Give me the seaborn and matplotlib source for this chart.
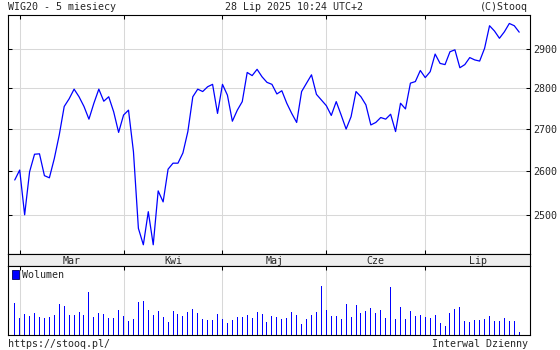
import matplotlib
matplotlib.use("Agg")
import matplotlib.pyplot as plt
from matplotlib.ticker import FixedLocator, FixedFormatter, NullLocator
from matplotlib.patches import Patch
import seaborn as sns
import numpy as np
import pandas as pd

# ---- data ----
price = [2580, 2603, 2501, 2599, 2640, 2641, 2590, 2585, 2630, 2686,
         2755, 2774, 2798, 2779, 2755, 2724, 2763, 2798, 2768, 2779,
         2742, 2692, 2734, 2746, 2646, 2471, 2435, 2508, 2435, 2555,
         2530, 2605, 2619, 2619, 2643, 2694, 2779, 2798, 2792, 2804,
         2810, 2738, 2810, 2783, 2719, 2746, 2767, 2840, 2832, 2848,
         2829, 2815, 2810, 2786, 2794, 2763, 2738, 2716, 2792, 2813,
         2834, 2785, 2771, 2757, 2733, 2767, 2734, 2700, 2730, 2792,
         2779, 2759, 2710, 2716, 2728, 2724, 2736, 2694, 2763, 2749,
         2813, 2817, 2845, 2827, 2842, 2887, 2863, 2860, 2893, 2898,
         2852, 2860, 2878, 2872, 2869, 2902, 2961, 2947, 2928, 2945,
         2967, 2961, 2944]
volume = [31.7, 16.7, 20.7, 19.3, 21.7, 18.3, 16.7, 17.7, 20.3, 30.7,
          28.7, 20.3, 20.3, 22.7, 19.7, 42.7, 17.7, 21.7, 20.7, 16.7,
          17.3, 24.7, 19.3, 13.7, 16.3, 32.7, 33.7, 25.0, 20.3, 24.3,
          18.3, 12.7, 24.3, 20.7, 18.7, 22.7, 26.3, 21.7, 16.3, 14.7,
          14.7, 21.3, 15.7, 11.7, 15.3, 18.3, 17.7, 20.3, 16.7, 22.7,
          21.0, 12.7, 19.3, 17.7, 15.7, 16.7, 22.7, 20.3, 11.3, 15.7,
          20.3, 23.0, 49.3, 24.7, 19.3, 19.3, 16.3, 30.7, 18.3, 30.3,
          21.7, 24.3, 26.7, 21.7, 25.3, 16.7, 47.7, 15.7, 28.3, 15.7,
          23.7, 18.7, 20.3, 17.7, 17.3, 20.3, 11.7, 9.3, 22.3, 25.7,
          28.3, 14.3, 12.7, 15.3, 14.7, 15.7, 19.3, 13.7, 13.7, 17.3,
          14.3, 14.3, 2.7]
month_start = [1, 22, 42, 63, 83]
month_labels = ["Mar", "Kwi", "Maj", "Cze", "Lip"]
price_ticks = [2500, 2600, 2700, 2800, 2900]

day = list(range(len(price)))
df = pd.DataFrame({"day": day, "price": price, "volume": volume})

sns.set_style("white")
plt.rcParams["font.family"] = ["DejaVu Sans Mono"]
FS = 7.2
BLUE = "#0000ff"
GRID = "#d8d8d8"

W, H = 560, 350
fig = plt.figure(figsize=(5.6, 3.5), dpi=100)
fig.patch.set_facecolor("white")

def rect(l, t, r, b):
    return [l / W, 1 - b / H, (r - l) / W, (b - t) / H]

XMIN, XMAX = -1.365, 104.18

axp = fig.add_axes(rect(8, 15, 530, 254))
axb = fig.add_axes(rect(8, 254, 530, 266))
axv = fig.add_axes(rect(8, 266, 530, 335))

# ---- price panel ----
sns.lineplot(data=df, x="day", y="price", ax=axp, color=BLUE, lw=0.9)
axp.set_yscale("log")
axp.set_xlim(XMIN, XMAX)
axp.set_ylim(2415, 2989.5)
axp.yaxis.set_major_locator(FixedLocator(price_ticks))
axp.yaxis.set_major_formatter(FixedFormatter([str(t) for t in price_ticks]))
axp.yaxis.set_minor_locator(NullLocator())
axp.xaxis.set_major_locator(FixedLocator(month_start))
axp.set_xticklabels([])
axp.grid(True, color=GRID, lw=0.75)
axp.set_axisbelow(True)
axp.set_xlabel("")
axp.set_ylabel("")
axp.tick_params(axis="y", which="both", left=True, right=True, labelleft=False,
                labelright=True, direction="in", length=3, width=0.75,
                labelsize=FS, pad=2, color="black")
axp.tick_params(axis="x", bottom=True, top=True, direction="in", length=3,
                width=0.75, color="black", labelbottom=False)

# ---- month band ----
axb.set_facecolor("#eeeeee")
axb.set_xlim(XMIN, XMAX)
axb.set_ylim(0, 1)
axb.set_xticks([])
axb.set_yticks([])
edges = month_start + [XMAX]
for i, lab in enumerate(month_labels):
    axb.text((edges[i] + edges[i + 1]) / 2, 0.45, lab, ha="center", va="center",
             fontsize=FS)

# ---- volume panel ----
sns.barplot(data=df, x="day", y="volume", ax=axv, color=BLUE, native_scale=True,
            width=0.2025, linewidth=0, saturation=1)
for p in axv.patches:
    p.set_antialiased(False)
    p.set_snap(True)
axv.set_xlim(XMIN, XMAX)
axv.set_ylim(0, 69)
axv.xaxis.set_major_locator(FixedLocator(month_start))
axv.set_xticklabels([])
axv.set_yticks([])
axv.grid(True, axis="x", color=GRID, lw=0.75)
axv.set_axisbelow(True)
axv.set_xlabel("")
axv.set_ylabel("")
axv.tick_params(axis="x", top=True, bottom=False, direction="in", length=3,
                width=0.75, color="black", labelbottom=False)
axv.legend(handles=[Patch(facecolor=BLUE, edgecolor="#000060", lw=0.6, label="Wolumen")],
           loc="upper left", frameon=False, fontsize=FS, handlelength=0.7,
           handleheight=0.9, handletextpad=0.3, borderaxespad=0.2,
           borderpad=0.2)

for ax in (axp, axb, axv):
    for s in ax.spines.values():
        s.set_color("black")
        s.set_linewidth(0.8)
        s.set_visible(True)

# ---- header / footer ----
fig.text(8 / W, 1 - 7 / H, "WIG20 - 5 miesiecy", ha="left", va="center", fontsize=FS)
fig.text(294 / W, 1 - 7 / H, "28 Lip 2025 10:24 UTC+2", ha="center", va="center", fontsize=FS)
fig.text(528 / W, 1 - 7 / H, "(C)Stooq", ha="right", va="center", fontsize=FS)
fig.text(8 / W, 1 - 344 / H, "https://stooq.pl/", ha="left", va="center", fontsize=FS)
fig.text(528 / W, 1 - 344 / H, "Interwal Dzienny", ha="right", va="center", fontsize=FS)

fig.savefig("out.png", dpi=100)
